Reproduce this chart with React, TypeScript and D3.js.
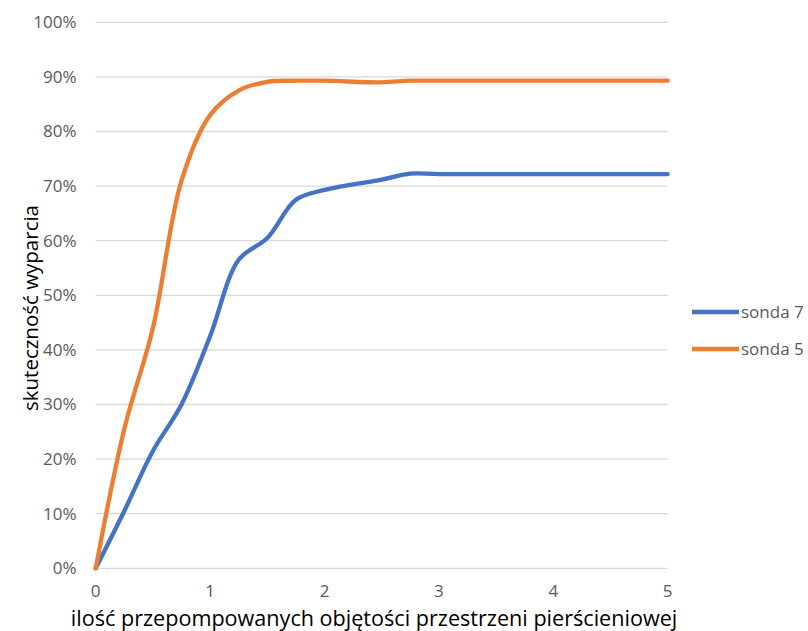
import React from "react";
import * as d3 from "d3";

const xValues = [0, 0.25, 0.5, 0.75, 1, 1.25, 1.5, 1.75, 2, 2.5, 2.75, 3, 4, 5];
const sonda7 = [0, 10.5, 21.5, 30, 42.5, 56.5, 60.5, 67.5, 69.3, 71.2, 72.3, 72.2, 72.2, 72.2];
const sonda5 = [0, 25.5, 44, 71, 83, 87.5, 89.1, 89.3, 89.3, 89.0, 89.3, 89.3, 89.3, 89.3];
const seriesNames = ["sonda 7", "sonda 5"];
const seriesColors = ["#4472C4", "#ED7D31"];
const xTicks = [0, 1, 2, 3, 4, 5];
const yTicks = [0, 10, 20, 30, 40, 50, 60, 70, 80, 90, 100];
const xTitle = "ilość przepompowanych objętości przestrzeni pierścieniowej";
const yTitle = "skuteczność wyparcia";

const W = 808;
const H = 631;
const FONT = "'Open Sans', 'Noto Sans', sans-serif";

export default function App() {
  const x = d3.scaleLinear().domain([0, 5]).range([95.7, 667.7]);
  const y = d3.scaleLinear().domain([0, 100]).range([568.3, 22.3]);
  const line = d3
    .line<[number, number]>()
    .x((d) => x(d[0]))
    .y((d) => y(d[1]))
    .curve(d3.curveCatmullRom.alpha(0.5));
  const series = [sonda7, sonda5];
  return (
    <svg
      width={W}
      height={H}
      style={{ position: "absolute", left: 0, top: 0, background: "#fff" }}
      fontFamily={FONT}
    >
      {yTicks.map((t) => (
        <g key={t}>
          <line x1={x(0)} x2={x(5)} y1={y(t)} y2={y(t)} stroke="#d9d9d9" strokeWidth={1.3} />
          <text x={76.5} y={y(t)} dy="0.35em" textAnchor="end" fontSize={17} fill="#595959">
            {t}%
          </text>
        </g>
      ))}
      {xTicks.map((t) => (
        <text key={t} x={x(t)} y={597} textAnchor="middle" fontSize={17} fill="#595959">
          {t}
        </text>
      ))}
      {series.map((s, i) => (
        <path
          key={i}
          d={line(xValues.map((v, j) => [v, s[j]] as [number, number])) || ""}
          fill="none"
          stroke={seriesColors[i]}
          strokeWidth={4.3}
          strokeLinejoin="round"
          strokeLinecap="round"
        />
      ))}
      {seriesNames.map((n, i) => (
        <g key={n}>
          <line x1={692} x2={739} y1={312 + i * 37} y2={312 + i * 37} stroke={seriesColors[i]} strokeWidth={4.3} />
          <text x={741} y={312 + i * 37} dy="0.35em" fontSize={17} fill="#595959">
            {n}
          </text>
        </g>
      ))}
      <text x={374} y={626} textAnchor="middle" fontSize={21.6} fill="#000">
        {xTitle}
      </text>
      <text
        transform={`translate(38, 308) rotate(-90)`}
        textAnchor="middle"
        fontSize={20.5}
        fill="#000"
      >
        {yTitle}
      </text>
    </svg>
  );
}
